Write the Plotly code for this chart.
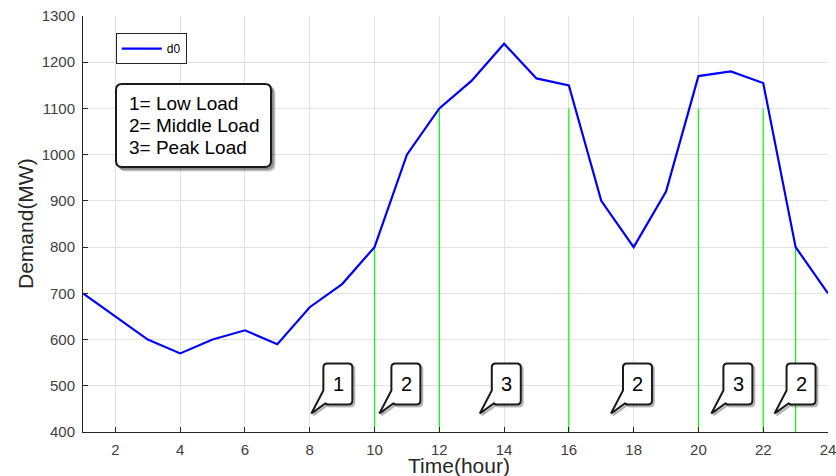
import plotly.graph_objects as go

# ---------------- data ----------------
hours = list(range(1, 25))
demand = [700, 650, 600, 570, 600, 620, 590, 670, 720, 800, 1000, 1100,
          1160, 1240, 1165, 1150, 900, 800, 920, 1170, 1180, 1155, 800, 700]

boundary_hours = [10, 12, 16, 20, 22, 23]
boundary_tops = [800, 1100, 1100, 1100, 1100, 800]
axis_floor = 400

callout_labels = ["1", "2", "3", "2", "3", "2"]
callout_x = [8.05, 10.15, 13.25, 17.3, 20.4, 22.35]
callout_y = [440, 440, 440, 440, 440, 440]

load_levels = ["1= Low Load", "2= Middle Load", "3= Peak Load"]

x_ticks = [2, 4, 6, 8, 10, 12, 14, 16, 18, 20, 22, 24]
y_ticks = [400, 500, 600, 700, 800, 900, 1000, 1100, 1200, 1300]

# ---------------- figure ----------------
FONT = "Liberation Sans, Arial, sans-serif"
AX = "#262626"

gx, gy = [], []
for h, t in zip(boundary_hours, boundary_tops):
    gx += [h, h, None]
    gy += [axis_floor, t, None]

fig = go.Figure()
fig.add_trace(go.Scatter(x=gx, y=gy, mode="lines", showlegend=False,
                         line=dict(color="#00ff00", width=1.2), hoverinfo="skip"))
fig.add_trace(go.Scatter(x=hours, y=demand, mode="lines", name="d0",
                         line=dict(color="#0000ff", width=2.2)))


def bubble_path(ox=0.0, oy=0.0):
    L, R, B, T, r = 12 + ox, 41 + ox, 9 + oy, 50 + oy, 4
    return (f"M {L + r},{B} L {R - r},{B} Q {R},{B} {R},{B + r} "
            f"L {R},{T - r} Q {R},{T} {R - r},{T} L {L + r},{T} "
            f"Q {L},{T} {L},{T - r} L {L},{23 + oy} L {ox},{oy} "
            f"L {L + 2},{B + 1} Z")


def rbox_path(L, R, T, B, r, ox=0.0, oy=0.0):
    L, R, T, B = L + ox, R + ox, T + oy, B + oy
    return (f"M {L + r},{B} L {R - r},{B} Q {R},{B} {R},{B + r} "
            f"L {R},{T - r} Q {R},{T} {R - r},{T} L {L + r},{T} "
            f"Q {L},{T} {L},{T - r} L {L},{B + r} Q {L},{B} {L + r},{B} Z")


shapes = []
annotations = []

for lab, cx, cy in zip(callout_labels, callout_x, callout_y):
    common = dict(type="path", xref="x", yref="y", xsizemode="pixel",
                  ysizemode="pixel", xanchor=cx, yanchor=cy, layer="above")
    shapes.append(dict(**common, path=bubble_path(2, -2),
                       line=dict(color="rgba(0,0,0,0.25)", width=2),
                       fillcolor="rgba(0,0,0,0.12)"))
    shapes.append(dict(**common, path=bubble_path(),
                       line=dict(color="#1a1a1a", width=2),
                       fillcolor="white"))
    annotations.append(dict(x=cx, y=cy, xref="x", yref="y", text=lab,
                            showarrow=False, xshift=27, yshift=29.5,
                            xanchor="center", yanchor="middle",
                            font=dict(family=FONT, size=20, color="black")))

# info box anchored at top-left corner of the axes
box_common = dict(type="path", xref="x", yref="y", xsizemode="pixel",
                  ysizemode="pixel", xanchor=1, yanchor=1300, layer="above")
for k, a in [(4, 0.08), (3, 0.12), (2, 0.18)]:
    shapes.append(dict(**box_common, path=rbox_path(33, 188, -68, -151, 6, k, -k),
                       line=dict(color=f"rgba(0,0,0,{a})", width=2),
                       fillcolor=f"rgba(0,0,0,{a})"))
shapes.append(dict(**box_common, path=rbox_path(33, 188, -68, -151, 6),
                   line=dict(color="#1a1a1a", width=2), fillcolor="white"))
for i, txt in enumerate(load_levels):
    annotations.append(dict(x=1, y=1300, xref="x", yref="y", text=txt,
                            showarrow=False, xshift=44, yshift=-87 - 22 * i,
                            xanchor="left", yanchor="middle",
                            font=dict(family=FONT, size=19, color="black")))

# axis titles
annotations.append(dict(x=0.505, y=0, xref="paper", yref="paper", text="Time(hour)",
                        showarrow=False, yshift=-33, xanchor="center", yanchor="middle",
                        font=dict(family=FONT, size=21, color=AX)))
annotations.append(dict(x=0, y=0.5, xref="paper", yref="paper", text="Demand(MW)",
                        showarrow=False, xshift=-58, textangle=-90,
                        xanchor="center", yanchor="middle",
                        font=dict(family=FONT, size=21, color=AX)))

fig.update_layout(
    width=836, height=476,
    margin=dict(l=83, r=8, t=16, b=44, autoexpand=False),
    paper_bgcolor="white", plot_bgcolor="white",
    font=dict(family=FONT, color="#404040"),
    shapes=shapes, annotations=annotations,
    legend=dict(x=0.044, y=0.959, xanchor="left", yanchor="top",
                bgcolor="white", bordercolor=AX, borderwidth=1,
                font=dict(family=FONT, size=12, color="black"),
                itemwidth=40),
    showlegend=True,
)
fig.update_xaxes(range=[1, 24], tickvals=x_ticks, showline=True, linecolor=AX,
                 linewidth=1, ticks="inside", ticklen=5, tickcolor=AX,
                 showgrid=True, gridcolor="#e2e2e2", gridwidth=1, zeroline=False,
                 tickfont=dict(family=FONT, size=15, color="#404040"),
                 ticklabelstandoff=4, ticklabeloverflow="allow", automargin=False)
fig.update_yaxes(range=[400, 1300], tickvals=y_ticks, showline=True, linecolor=AX,
                 linewidth=1, ticks="inside", ticklen=5, tickcolor=AX,
                 showgrid=True, gridcolor="#e2e2e2", gridwidth=1, zeroline=False,
                 tickfont=dict(family=FONT, size=15, color="#404040"),
                 ticklabelstandoff=4, automargin=False)

fig.write_html("out.html")
